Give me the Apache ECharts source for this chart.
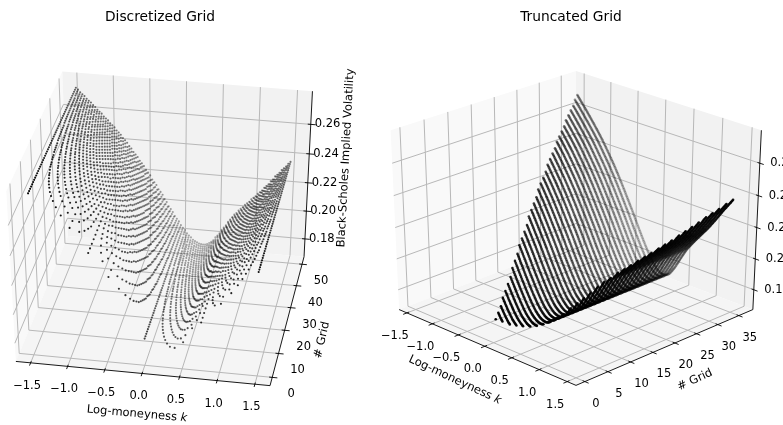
<!DOCTYPE html>
<html><head><meta charset="utf-8">
<style>html,body{margin:0;padding:0;background:#fff}#c{width:783px;height:425px}</style>
<script src="https://cdn.jsdelivr.net/npm/echarts@6/dist/echarts.min.js"></script></head>
<body><div id="c"></div>
<script>
// Implied vol at 241 evenly spaced strikes between the outermost dots.
// Each dot takes the vol of its nearest entry; nothing is interpolated at run time.
const smileVol = [
.2767,.27615,.2756,.27505,.2745,.2739,.2733,.27275,.2722,.27165,.2711,.27055,.2700,.2694,.2688,.26825,
.2677,.26715,.2666,.26605,.2655,.2649,.2643,.26375,.2632,.2626,.2620,.2614,.2608,.2602,.2596,.2590,
.2584,.2578,.2572,.2566,.2560,.25535,.2547,.2541,.2535,.25285,.2522,.25155,.2509,.25025,.2496,.24895,
.2483,.2476,.2469,.24615,.2454,.2447,.2440,.24325,.2425,.24175,.2410,.24025,.2395,.23875,.2380,.23725,
.2365,.2357,.2349,.2341,.2333,.23245,.2316,.2308,.2300,.22915,.2283,.2274,.2265,.22565,.2248,.2239,
.2230,.2221,.2212,.2203,.2194,.21845,.2175,.2166,.2157,.2148,.2139,.21295,.2120,.2111,.2102,.20925,
.2083,.20735,.2064,.2054,.2044,.20345,.2025,.2015,.2005,.19955,.1986,.19765,.1967,.1958,.1949,.19395,
.1930,.1921,.1912,.1903,.1894,.18855,.1877,.18685,.1860,.1852,.1844,.1836,.1828,.1821,.1814,.1807,
.1800,.17945,.1789,.1784,.1779,.17745,.1770,.1766,.1762,.17595,.1757,.1755,.1753,.1752,.1751,.17505,
.1750,.1751,.1752,.1754,.1756,.1759,.1762,.1766,.1770,.1776,.1782,.17885,.1795,.18025,.1810,.18175,
.1825,.18335,.1842,.1851,.1860,.18685,.1877,.1886,.1895,.1904,.1913,.19215,.1930,.1939,.1948,.19565,
.1965,.1972,.1979,.19855,.1992,.19985,.2005,.20115,.2018,.20245,.2031,.2037,.2043,.20495,.2056,.2062,
.2068,.2074,.2080,.2086,.2092,.2098,.2104,.2110,.2116,.2122,.2128,.2134,.2140,.21465,.2153,.2159,
.2165,.2172,.2179,.21855,.2192,.2199,.2206,.2213,.2220,.2227,.2234,.2241,.2248,.2255,.2262,.2270,
.2278,.22845,.2291,.2298,.2305,.23115,.2318,.2325,.2332,.23385,.2345,.2352,.2359,.23655,.2372,.2379,.2386];
const kEdge = 1.473;
const smileStart = -kEdge, smileStep = 2*kEdge/240;
const kTicks = [-1.5,-1,-0.5,0,0.5,1,1.5];
const kTickLabels = ['\u22121.5','\u22121.0','\u22120.5','0.0','0.5','1.0','1.5'];
const leftGridTicks = [0,10,20,30,40,50];
const rightGridTicks = [0,5,10,15,20,25,30,35];
const volTicks = [0.18,0.20,0.22,0.24,0.26];
const volTickLabels = ['0.18','0.20','0.22','0.24','0.26'];
const leftRows = 50;   // row y holds 2y+3 evenly spaced strikes across the whole span
const rightRows = 35;  // row y keeps the fixed strike grid, truncated around rightCentre
const rightCentre = 0.05, rightLow = -1.35, rightHigh = 1.473;
const titles = ['Discretized Grid','Truncated Grid'];
const FONT = 'DejaVu Sans';

function volAt(k){ return smileVol[Math.round((k-smileStart)/smileStep)]; }

function makeView(o){
  const el=o.elev*Math.PI/180, az=o.azim*Math.PI/180;
  const n=[Math.cos(el)*Math.cos(az),Math.cos(el)*Math.sin(az),Math.sin(el)];
  const u=[-Math.sin(az),Math.cos(az),0];
  const v=[-Math.sin(el)*Math.cos(az),-Math.sin(el)*Math.sin(az),Math.cos(el)];
  const dot=(a,b)=>a[0]*b[0]+a[1]*b[1]+a[2]*b[2];
  return function(x,y,z){
    const p=[(x-o.x[0])/(o.x[1]-o.x[0])-.5,(y-o.y[0])/(o.y[1]-o.y[0])-.5,(z-o.z[0])/(o.z[1]-o.z[0])-.5];
    const w=10-dot(n,p);
    return [o.cx+o.sx*dot(u,p)*10/w, o.cy-o.sy*dot(v,p)*10/w, dot(n,p)];
  };
}

function buildPanel(o, points, gridTicks){
  const P=makeView(o), [x0,x1]=o.x, [y0,y1]=o.y, [z0,z1]=o.z;
  const xy=(x,y,z)=>P(x,y,z).slice(0,2);
  const series=[];
  const panes=[
    {c:'#f9f9f9',v:[[x0,y0,z0],[x0,y1,z0],[x0,y1,z1],[x0,y0,z1]]},
    {c:'#f2f2f2',v:[[x0,y1,z0],[x1,y1,z0],[x1,y1,z1],[x0,y1,z1]]},
    {c:'#f5f5f5',v:[[x0,y0,z0],[x1,y0,z0],[x1,y1,z0],[x0,y1,z0]]}
  ];
  series.push({type:'custom',silent:true,z:1,clip:false,coordinateSystem:'cartesian2d',
    data:panes.map((p,i)=>[i,0]),
    renderItem:(ps,api)=>{const p=panes[ps.dataIndex];
      return {type:'polygon',shape:{points:p.v.map(a=>api.coord(xy(a[0],a[1],a[2])))},style:{fill:p.c}};}});
  const seg=[], add=(a,b,c,w)=>seg.push({a:xy(...a),b:xy(...b),c,w});
  const G=o.gridColor, GW=o.gridWidth;
  kTicks.forEach(k=>{add([k,y0,z0],[k,y1,z0],G,GW);add([k,y1,z0],[k,y1,z1],G,GW);});
  gridTicks.forEach(g=>{add([x0,g,z0],[x1,g,z0],G,GW);add([x0,g,z0],[x0,g,z1],G,GW);});
  volTicks.forEach(t=>{add([x0,y0,t],[x0,y1,t],G,GW);add([x0,y1,t],[x1,y1,t],G,GW);});
  const dx=(x1-x0), dy=(y1-y0);
  const A='#000', AW=0.9;
  add([x0,y0,z0],[x1,y0,z0],A,AW); add([x1,y0,z0],[x1,y1,z0],A,AW); add([x1,y1,z0],[x1,y1,z1],A,AW);
  kTicks.forEach(k=>add([k,y0+dy*.012,z0],[k,y0-dy*.02,z0],A,AW));
  gridTicks.forEach(g=>add([x1-dx*.012,g,z0],[x1+dx*.02,g,z0],A,AW));
  volTicks.forEach(t=>add([x1-dx*.012,y1,t],[x1+dx*.02,y1,t],A,AW));
  series.push({type:'custom',silent:true,z:2,clip:false,coordinateSystem:'cartesian2d',
    data:seg.map((s,i)=>[i,0]),
    renderItem:(ps,api)=>{const s=seg[ps.dataIndex],a=api.coord(s.a),b=api.coord(s.b);
      return {type:'line',shape:{x1:a[0],y1:a[1],x2:b[0],y2:b[1]},style:{stroke:s.c,lineWidth:s.w}};}});
  const pr=points.map(q=>P(q[0],q[1],q[2]));
  const ds=pr.map(r=>r[2]), lo=Math.min(...ds), hi=Math.max(...ds);
  pr.sort((a,b)=>a[2]-b[2]);
  series.push({type:'scatter',silent:true,z:5,animation:false,clip:false,symbol:'circle',symbolSize:o.dot,
    large:false,progressive:0,
    data:pr.map(r=>({value:[r[0],r[1]],itemStyle:{color:'#000',opacity:o.aMin+(1-o.aMin)*(r[2]-lo)/(hi-lo)}}))});
  const T=[];
  kTicks.forEach((k,i)=>{const a=xy(k,y0,z0);T.push({t:kTickLabels[i],p:[a[0]+o.kOff[0],a[1]+o.kOff[1]]});});
  gridTicks.forEach(g=>{const a=xy(x1,g,z0);T.push({t:String(g),p:[a[0]+o.gOff[0],a[1]+o.gOff[1]]});});
  volTicks.forEach((t,i)=>{const a=xy(x1,y1,t);T.push({t:volTickLabels[i],p:[a[0]+o.zOff,a[1]],al:'left'});});
  o.labels.forEach(l=>T.push(l));
  series.push({type:'custom',silent:true,z:6,clip:false,coordinateSystem:'cartesian2d',
    data:T.map((s,i)=>[i,0]),
    renderItem:(ps,api)=>{const s=T[ps.dataIndex],a=api.coord(s.p),fs=s.fs||11.5;
      return {type:'text',x:a[0],y:a[1],rotation:(s.r||0)*Math.PI/180,
        style:{text:s.t,fill:'#000',fontFamily:FONT,fontSize:fs,align:s.al||'center',verticalAlign:'middle',
          rich:{i:{fontFamily:FONT,fontSize:fs,fontStyle:'italic',fill:'#000'}}}};}});
  return series;
}

const leftPts=[];
for(let y=0;y<=leftRows;y++){const n=y+1; for(let m=-n;m<=n;m++){const k=kEdge*m/n; leftPts.push([k,y,volAt(k)]);}}
const rightPts=[];
for(let y=0;y<=rightRows;y++){
  const lo=rightCentre+(rightLow-rightCentre)*y/rightRows, hi=rightCentre+(rightHigh-rightCentre)*y/rightRows;
  smileVol.forEach((vol,i)=>{const k=smileStart+i*smileStep;
    if(k>=lo-smileStep/2 && k<=hi+smileStep/2) rightPts.push([k,y,vol]);});}

const xLabel='Log-moneyness {i|k}';
const left=buildPanel({elev:37,azim:-80,cx:164.5,cy:226,sx:256,sy:210,x:[-1.7,1.7],y:[-3.4,53.6],z:[.167,.282],dot:2.1,aMin:.3,
  gridColor:'#b8b8b8',gridWidth:1,kOff:[-3.5,23],gOff:[19,17],zOff:4,
  labels:[{t:titles[0],p:[160,17],fs:13.8},{t:xLabel,p:[137,414],r:-5},{t:'# Grid',p:[322,340],r:77},{t:'Black-Scholes Implied Volatility',p:[346,158],r:87}]},
  leftPts,leftGridTicks);
const right=buildPanel({elev:28,azim:-45,cx:576,cy:222,sx:256,sy:203,x:[-1.655,1.655],y:[-1.9,38.4],z:[.167,.28],dot:2.6,aMin:.25,
  gridColor:'#b8b8b8',gridWidth:1,kOff:[-12,23],gOff:[11,22],zOff:10.5,
  labels:[{t:titles[1],p:[571,17],fs:13.8},{t:xLabel,p:[455,380],r:-25},{t:'# Grid',p:[695,380],r:25}]},
  rightPts,rightGridTicks);

const chart=echarts.init(document.getElementById('c'),null,{renderer:'canvas'});
chart.setOption({
  animation:false,backgroundColor:'#fff',tooltip:{show:false},
  grid:{left:0,right:0,top:0,bottom:0},
  xAxis:{type:'value',min:0,max:783,show:false},
  yAxis:{type:'value',min:0,max:425,inverse:true,show:false},
  series:left.concat(right)
});
</script></body></html>
